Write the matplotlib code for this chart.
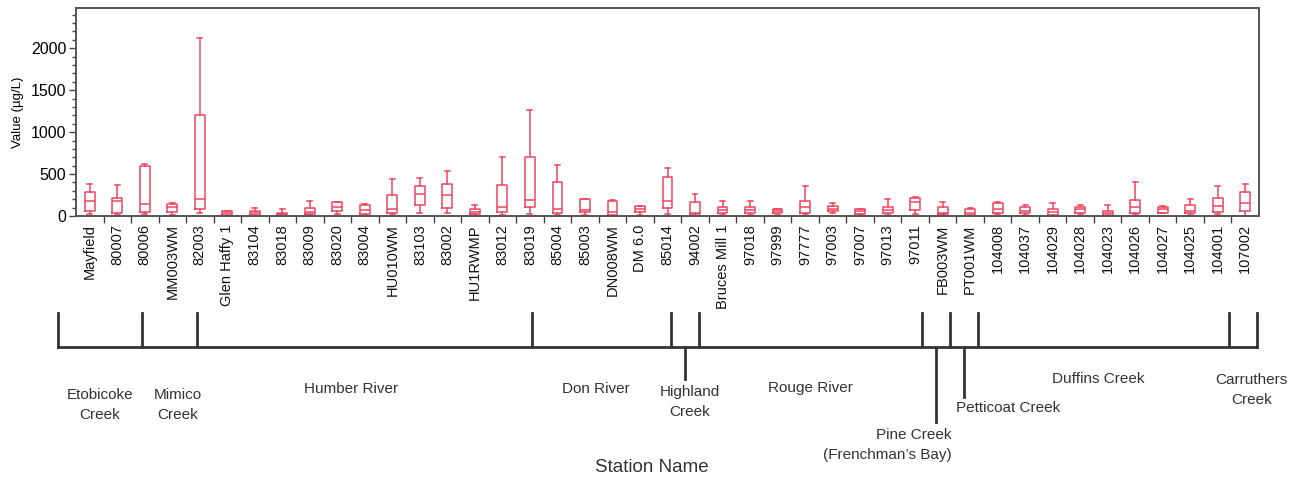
import numpy as np
import matplotlib
matplotlib.use("Agg")
import matplotlib.pyplot as plt

plt.rcParams['font.family'] = ['Liberation Sans', 'DejaVu Sans']

# stations, in plotting order
stations = ["Mayfield", "80007", "80006", "MM003WM", "82003", "Glen Haffy 1",
            "83104", "83018", "83009", "83020", "83004", "HU010WM", "83103",
            "83002", "HU1RWMP", "83012", "83019", "85004", "85003", "DN008WM",
            "DM 6.0", "85014", "94002", "Bruces Mill 1", "97018", "97999",
            "97777", "97003", "97007", "97013", "97011", "FB003WM", "PT001WM",
            "104008", "104037", "104029", "104028", "104023", "104026",
            "104027", "104025", "104001", "107002"]

# box statistics (ug/L)
whishi = [381, 370, 620, 151, 2118, 64, 91, 80, 179, 167, 139, 437, 457, 533, 135,
          703, 1260, 608, 207, 191, 123, 568, 262, 175, 175, 87, 354, 151, 87, 203,
          223, 163, 91, 163, 135, 151, 135, 135, 409, 115, 203, 354, 382]
q3 = [282, 219, 596, 143, 1200, 56, 56, 40, 91, 163, 135, 246, 354, 382, 80,
      370, 703, 409, 199, 179, 115, 465, 163, 103, 103, 80, 175, 115, 83, 103,
      219, 103, 87, 159, 103, 80, 103, 64, 187, 111, 131, 219, 282]
med = [179, 179, 139, 111, 203, 32, 40, 24, 48, 103, 72, 80, 262, 246, 48,
       111, 191, 80, 72, 48, 87, 179, 40, 72, 72, 56, 103, 87, 56, 72,
       163, 40, 32, 80, 64, 48, 80, 40, 111, 80, 64, 119, 155]
q1 = [64, 40, 52, 52, 80, 12, 12, 12, 24, 60, 24, 40, 135, 91, 24,
      48, 103, 40, 48, 12, 48, 91, 24, 40, 40, 32, 40, 64, 24, 32,
      68, 20, 12, 40, 32, 12, 40, 12, 40, 40, 32, 44, 64]
whislo = [24, 12, 24, 12, 40, 4, 4, 4, 12, 24, 12, 24, 40, 40, 12,
          12, 24, 12, 12, 4, 12, 24, 4, 12, 12, 12, 24, 32, 20, 12,
          24, 8, 4, 24, 12, 4, 24, 4, 20, 32, 12, 28, 0]

# watersheds and how many stations each holds
groups = ["Etobicoke\nCreek", "Mimico\nCreek", "Humber River", "Don River",
          "Highland\nCreek", "Rouge River", "Pine Creek\n(Frenchman\u2019s Bay)",
          "Petticoat Creek", "Duffins Creek", "Carruthers\nCreek"]
group_sizes = [3, 2, 12, 5, 1, 8, 1, 1, 9, 1]

W, H = 1289, 483
fig = plt.figure(figsize=(W / 100, H / 100), dpi=100)
ax = fig.add_axes([76 / W, 1 - 216 / H, (1259 - 76) / W, (216 - 8) / H])

red = '#ef4560'
stats = [dict(med=m, q1=a, q3=b, whislo=lo, whishi=hi, fliers=[])
         for m, a, b, lo, hi in zip(med, q1, q3, whislo, whishi)]
pos = np.arange(1, len(stations) + 1)
ax.bxp(stats, positions=pos, widths=0.36, showfliers=False,
       boxprops=dict(color=red, lw=1.1),
       whiskerprops=dict(color=red, lw=1.1),
       capprops=dict(color=red, lw=1.1),
       medianprops=dict(color=red, lw=1.1))

ax.set_xlim(0.5, len(stations) + 0.5)
ax.set_ylim(0, 2480)
ax.set_xticks(pos)
ax.set_xticklabels(stations, rotation=90, fontsize=10.5, color='#111')
ax.set_xticks(pos[:-1] + 0.5, minor=True)
ax.tick_params(axis='x', which='major', length=0, pad=6)
ax.tick_params(axis='x', which='minor', length=5, width=1, color='#444', direction='out')
ax.set_yticks([0, 500, 1000, 1500, 2000])
ax.set_yticks(np.arange(0, 2500, 100), minor=True)
ax.tick_params(axis='y', which='major', length=5, width=1, labelsize=11.5, color='#444', pad=2)
ax.tick_params(axis='y', which='minor', length=3, width=1, color='#444')
ax.set_ylabel('Value (\u00b5g/L)', fontsize=9.5, labelpad=5)
for s in ax.spines.values():
    s.set_color('#555')
    s.set_linewidth(1.4)

# watershed bracket below the station names (y in pixels from the top)
ax2 = fig.add_axes([58 / W, 0, (1257 - 58) / W, 1])
ax2.set_xlim(0, len(stations))
ax2.set_ylim(H, 0)
ax2.axis('off')
edges = np.concatenate([[0], np.cumsum(group_sizes)])
line_y, tick_top = 347, 313
lc = '#333'
ax2.plot([0, len(stations)], [line_y, line_y], color=lc, lw=2,
         solid_capstyle='projecting', clip_on=False)
for e in edges:
    ax2.plot([e, e], [tick_top, line_y], color=lc, lw=2, clip_on=False)
mids = (edges[:-1] + edges[1:]) / 2

# label placement: (x shift, y centre, ha, leader-line end)
label_spec = [(0.0, 405, 'center', None), (0.3, 405, 'center', None),
              (-0.5, 389, 'center', None), (-0.2, 389, 'center', None),
              (0.15, 402, 'center', 379), (0.0, 388, 'center', None),
              (0.55, 445, 'right', 422), (-0.3, 408, 'left', 397),
              (-0.2, 379, 'center', None), (0.3, 390, 'center', None)]
narrow = ['Liberation Sans Narrow', 'Liberation Sans', 'DejaVu Sans']
for name, m, (dx, yc, ha, lead) in zip(groups, mids, label_spec):
    if lead is not None:
        ax2.plot([m, m], [line_y, lead], color=lc, lw=2, clip_on=False)
    ax2.text(m + dx, yc, name, ha=ha, va='center', ma=ha, fontsize=11,
             color='#333', family=narrow, linespacing=1.5)

ax2.text(21.3, 468, 'Station Name', ha='center', va='center', fontsize=13.5,
         color='#333', family=narrow)

fig.savefig('out.png', dpi=100)
